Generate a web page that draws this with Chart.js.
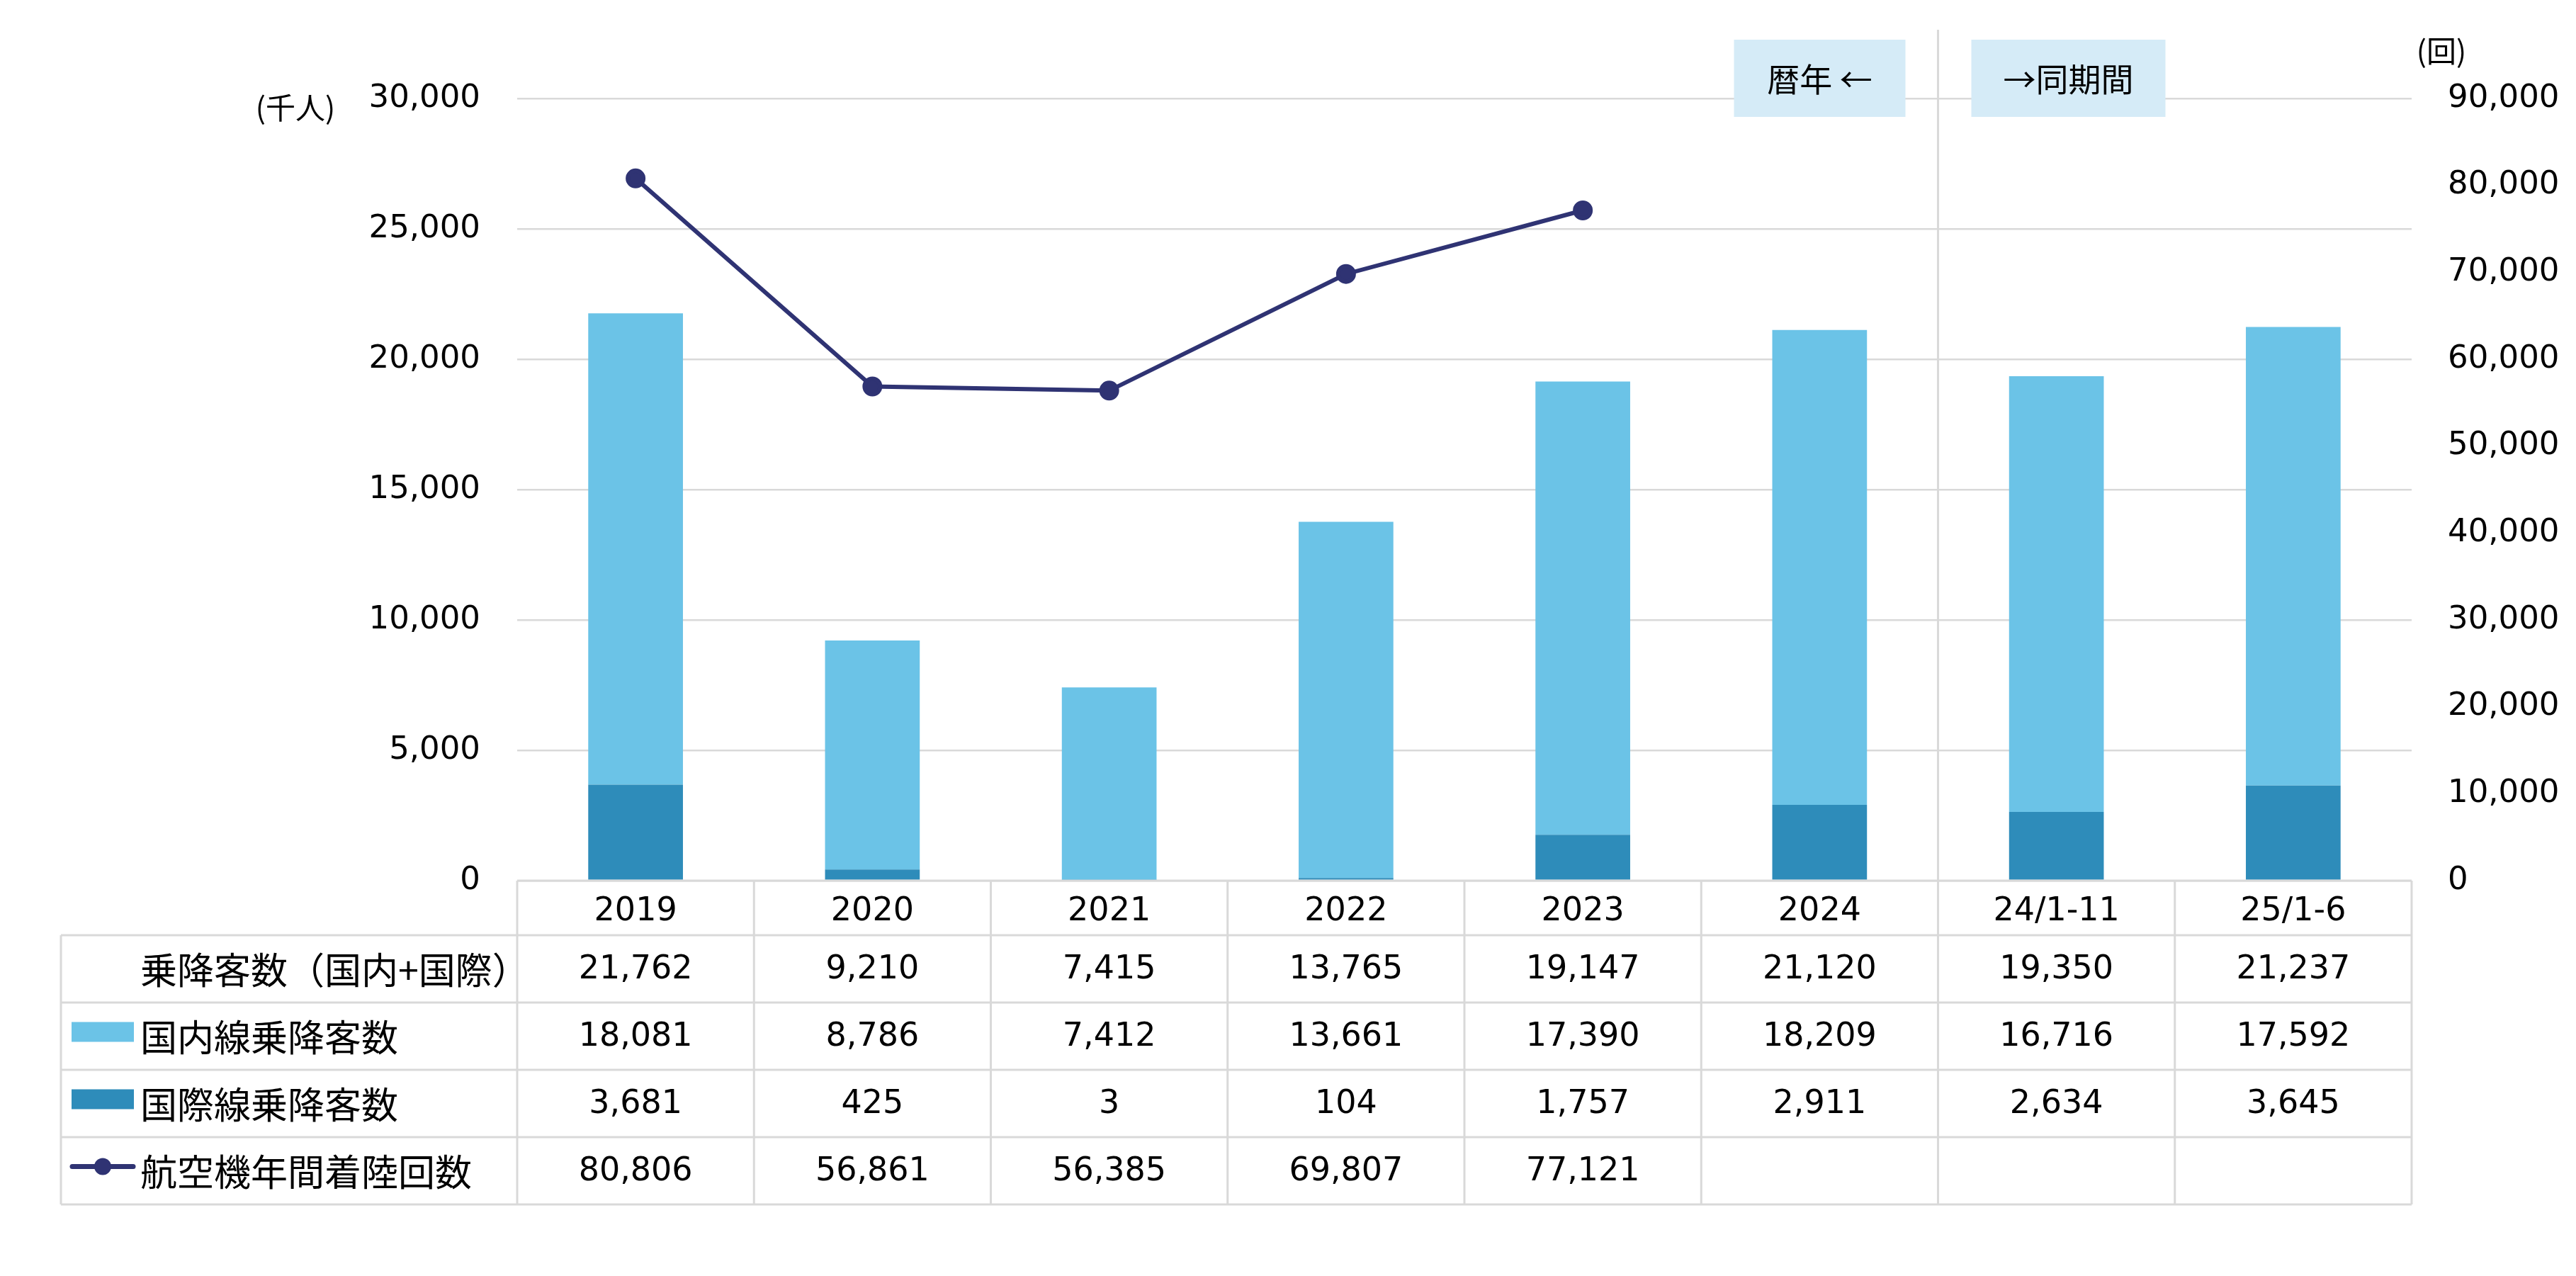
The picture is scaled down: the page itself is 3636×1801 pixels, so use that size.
<!DOCTYPE html>
<html lang="ja">
<head>
<meta charset="utf-8">
<script src="https://cdn.jsdelivr.net/npm/chart.js@4.4.0/dist/chart.umd.min.js"></script>
<style>
  html, body { margin: 0; padding: 0; background: #fff; }
  canvas { display: block; }
</style>
</head>
<body>
<canvas id="chart" width="3636" height="1801"></canvas>
<script>
const categories = ['2019', '2020', '2021', '2022', '2023', '2024', '24/1-11', '25/1-6'];
const totals = [21762, 9210, 7415, 13765, 19147, 21120, 19350, 21237];
const domestic = [18081, 8786, 7412, 13661, 17390, 18209, 16716, 17592];
const international = [3681, 425, 3, 104, 1757, 2911, 2634, 3645];
const landings = [80806, 56861, 56385, 69807, 77121, null, null, null];
const rowLabels = ['乗降客数（国内+国際）', '国内線乗降客数', '国際線乗降客数', '航空機年間着陸回数'];

const FONT = "'DejaVu Sans', 'Noto Sans CJK JP', sans-serif";
const JP = "'Noto Sans CJK JP', sans-serif";
const C_DOM = '#6BC3E7', C_INT = '#2E8CBA', C_LINE = '#2F3373', C_GRID = '#D9D9D9';

const fmt = (v) => v == null ? '' : v.toLocaleString('en-US');

// table under the plot, legend keys, period boxes and unit labels
const extras = {
  id: 'extras',
  afterDraw(chart) {
    const { ctx, chartArea: a, scales: { x } } = chart;
    const half = (x.getPixelForValue(1) - x.getPixelForValue(0)) / 2;
    const colEdge = (i) => x.getPixelForValue(0) - half + i * 2 * half;
    const rows = [1320, 1415, 1510, 1605, 1700];
    const tableLeft = 86;

    ctx.save();
    ctx.strokeStyle = C_GRID;
    ctx.lineWidth = 3;
    ctx.beginPath();
    // header row
    ctx.moveTo(a.left, a.bottom); ctx.lineTo(a.right, a.bottom);
    for (let i = 0; i <= categories.length; i++) {
      ctx.moveTo(colEdge(i), a.bottom); ctx.lineTo(colEdge(i), rows[rows.length - 1]);
    }
    rows.forEach((y) => { ctx.moveTo(tableLeft, y); ctx.lineTo(a.right, y); });
    ctx.moveTo(tableLeft, rows[0]); ctx.lineTo(tableLeft, rows[rows.length - 1]);
    // divider calendar year / same period
    const dx = colEdge(6);
    ctx.moveTo(dx, 42); ctx.lineTo(dx, a.bottom);
    ctx.stroke();

    // period boxes
    ctx.fillStyle = '#D5EBF7';
    ctx.fillRect(dx - 288, 56, 242, 109);
    ctx.fillRect(dx + 47, 56, 274, 109);
    ctx.fillStyle = '#000';
    ctx.textAlign = 'center';
    ctx.textBaseline = 'middle';
    ctx.font = `46px ${JP}`;
    ctx.fillText('暦年 ←', dx - 167, 112);
    ctx.fillText('→同期間', dx + 184, 112);

    // unit labels
    ctx.font = `42px ${JP}`;
    ctx.fillText('(千人)', 417, 152);
    ctx.fillText('(回)', 3446, 72);

    // table rows
    const values = [totals, domestic, international, landings];
    values.forEach((vals, r) => {
      const yc = (rows[r] + rows[r + 1]) / 2 + 2;
      ctx.fillStyle = '#000';
      ctx.textAlign = 'left';
      ctx.font = `52px ${JP}`;
      ctx.fillText(rowLabels[r], 198, yc);
      ctx.textAlign = 'center';
      ctx.font = `46px ${FONT}`;
      vals.forEach((v, i) => ctx.fillText(fmt(v), x.getPixelForValue(i), yc));
    });

    // legend keys
    const key = (r) => (rows[r] + rows[r + 1]) / 2;
    ctx.fillStyle = C_DOM;
    ctx.fillRect(101, key(1) - 20, 88, 28);
    ctx.fillStyle = C_INT;
    ctx.fillRect(101, key(2) - 20, 88, 28);
    ctx.strokeStyle = C_LINE;
    ctx.lineWidth = 7;
    ctx.lineCap = 'round';
    ctx.beginPath();
    ctx.moveTo(102, key(3) - 6); ctx.lineTo(188, key(3) - 6);
    ctx.stroke();
    ctx.fillStyle = C_LINE;
    ctx.beginPath();
    ctx.arc(145, key(3) - 6, 12, 0, Math.PI * 2);
    ctx.fill();
    ctx.restore();
  }
};

new Chart(document.getElementById('chart'), {
  data: {
    labels: categories,
    datasets: [
      { type: 'line', label: rowLabels[3], data: landings, yAxisID: 'y1', order: 0,
        borderColor: C_LINE, backgroundColor: C_LINE, borderWidth: 6,
        pointRadius: 11, pointHoverRadius: 11, tension: 0, spanGaps: false },
      { type: 'bar', label: rowLabels[2], data: international, yAxisID: 'y', order: 1,
        backgroundColor: C_INT, stack: 's', barPercentage: 0.4, categoryPercentage: 1 },
      { type: 'bar', label: rowLabels[1], data: domestic, yAxisID: 'y', order: 1,
        backgroundColor: C_DOM, stack: 's', barPercentage: 0.4, categoryPercentage: 1 },
    ],
  },
  options: {
    responsive: false,
    animation: false,
    devicePixelRatio: 1,
    layout: { padding: { top: 139, left: 0, right: 0, bottom: 0 } },
    plugins: { legend: { display: false }, tooltip: { enabled: false } },
    scales: {
      x: {
        stacked: true,
        grid: { display: false, drawTicks: false },
        border: { display: false },
        ticks: { color: '#000', font: { family: FONT, size: 46 }, padding: 16 },
        afterFit: (s) => { s.height = 558; },
      },
      y: {
        stacked: true, position: 'left', min: 0, max: 30000,
        grid: { color: C_GRID, lineWidth: 2.5, drawTicks: false },
        border: { display: false },
        ticks: { stepSize: 5000, color: '#000', padding: 52,
          font: { family: FONT, size: 45 }, callback: (v) => fmt(v) },
        afterFit: (s) => { s.width = 730; },
      },
      y1: {
        position: 'right', min: 0, max: 90000,
        grid: { display: false, drawTicks: false },
        border: { display: false },
        ticks: { stepSize: 10000, color: '#000', padding: 51,
          font: { family: FONT, size: 45 }, callback: (v) => fmt(v) },
        afterFit: (s) => { s.width = 232; },
      },
    },
  },
  plugins: [extras],
});
</script>
</body>
</html>
